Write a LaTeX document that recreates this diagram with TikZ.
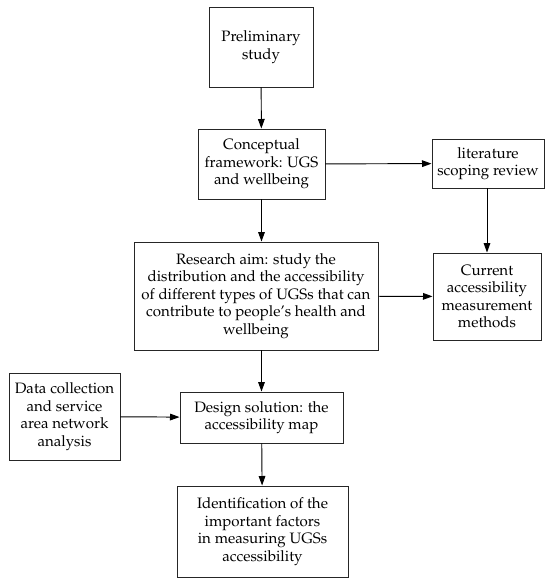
\documentclass[tikz,border=0pt]{standalone}
\usepackage[T1]{fontenc}
\usepackage{mathpazo}
\usetikzlibrary{arrows, arrows.meta}
\usetikzlibrary{calc}

\tikzset{
  box/.style 2 args={draw=black!85, line width=0.6pt, align=center, inner sep=2pt,
    font=\fontsize{9.5}{11.1}\selectfont,
    minimum width=#1*0.63pt, minimum height=#2*0.63pt},
  flow/.style={line width=0.6pt, -{Triangle[length=6pt, width=4.2pt]}}
}

\begin{document}
\begin{tikzpicture}[x=0.63pt, y=-0.63pt]
      \useasboundingbox (0,0) rectangle (550,584);

      \node[box={104}{80}] (prelim) at (261, 47) {Preliminary\\study};
      \node[box={127}{70}] (concept) at (261.5, 164) {Conceptual\\framework: UGS\\and wellbeing};
      \node[box={112}{49}] (review) at (488, 163.5) {literature\\scoping review};
      \node[box={244}{108}] (aim) at (256, 296) {Research aim: study the\\distribution and the accessibility\\of different types of UGSs that can\\contribute to people's health and\\wellbeing};
      \node[box={108}{87}] (methods) at (487, 296.5) {Current\\accessibility\\measurement\\methods};
      \node[box={111}{87}] (data) at (64.5, 416.5) {Data collection\\and service\\area network\\analysis};
      \node[box={163}{51}] (design) at (261.5, 417.5) {Design solution: the\\accessibility map};
      \node[box={171}{91}] (factors) at (262.5, 531.5) {Identification of the\\important factors\\in measuring UGSs\\accessibility};

      \draw[flow] (prelim) -- (concept);
      \draw[flow] (concept) -- (review);
      \draw[flow] (review.south -| methods.north) -- (methods);
      \draw[flow] (concept.south) -- (concept.south |- aim.north);
      \draw[flow] (aim) -- (methods);
      \draw[flow] (design.north |- aim.south) -- (design.north);
      \draw[flow] (data) -- (design);
      \draw[flow] (design) -- (factors);
    \end{tikzpicture}
\end{document}
